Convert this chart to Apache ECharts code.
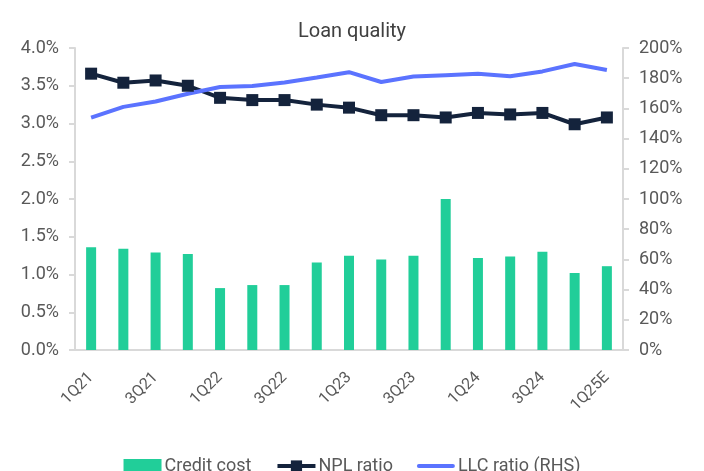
<!DOCTYPE html>
<html><head><meta charset="utf-8">
<script src="https://cdn.jsdelivr.net/npm/echarts@6/dist/echarts.min.js"></script>
<style>html,body{margin:0;padding:0;background:#fff}#c{width:704px;height:471px}</style>
</head><body><div id="c"></div>
<script>
const categories = ['1Q21','2Q21','3Q21','4Q21','1Q22','2Q22','3Q22','4Q22','1Q23','2Q23','3Q23','4Q23','1Q24','2Q24','3Q24','4Q24','1Q25E'];
const creditCost = [1.36,1.34,1.29,1.27,0.82,0.86,0.86,1.16,1.25,1.20,1.25,2.00,1.22,1.24,1.30,1.02,1.11];
const nplRatio = [3.66,3.54,3.57,3.50,3.34,3.31,3.31,3.25,3.21,3.11,3.11,3.08,3.14,3.12,3.14,2.99,3.08];
const llcRatio = [153.9,161.0,164.6,169.7,174.2,174.9,177.1,180.4,184.0,177.5,181.1,182.0,182.9,181.3,184.5,189.4,185.4];

const FONT = 'Roboto';
const TXT = '#595959';
const chart = echarts.init(document.getElementById('c'));
chart.setOption({
  animation: false,
  textStyle: {fontFamily: FONT},
  title: {text: 'Loan quality', left: 'center', top: 17, textStyle: {fontFamily: FONT, fontSize: 20, fontWeight: 'normal', color: '#404040'}},
  grid: {left: 75, right: 81, top: 48, bottom: 121},
  legend: {
    top: 452, left: 'center', itemGap: 24, itemWidth: 38, itemHeight: 14, symbolKeepAspect: true,
    textStyle: {fontFamily: FONT, fontSize: 18, color: TXT, padding: [0, 0, 0, -2]},
    data: [
      {name: 'Credit cost', icon: 'rect'},
      {name: 'NPL ratio', lineStyle: {width: 4}},
      {name: 'LLC ratio (RHS)', icon: 'path://M2,0h34a2,2 0 0 1 0,4h-34a2,2 0 0 1 0,-4z'}
    ]
  },
  xAxis: {
    type: 'category', data: categories,
    axisLine: {lineStyle: {color: '#D9D9D9', width: 2}},
    axisTick: {show: false},
    axisLabel: {interval: 1, rotate: 45, fontSize: 16, color: TXT, margin: 25}
  },
  yAxis: [
    {type: 'value', min: 0, max: 4, interval: 0.5, position: 'left',
     axisLine: {show: true, lineStyle: {color: '#D9D9D9', width: 2}},
     axisTick: {show: true, length: 6, lineStyle: {color: '#D9D9D9', width: 2}},
     splitLine: {show: false},
     axisLabel: {fontSize: 18, color: TXT, margin: 16, formatter: v => v.toFixed(1) + '%'}},
    {type: 'value', min: 0, max: 200, interval: 20, position: 'right',
     axisLine: {show: true, lineStyle: {color: '#D9D9D9', width: 2}},
     axisTick: {show: true, length: 6, lineStyle: {color: '#D9D9D9', width: 2}},
     splitLine: {show: false},
     axisLabel: {fontSize: 18, color: TXT, margin: 16, formatter: v => v + '%'}}
  ],
  series: [
    {name: 'Credit cost', type: 'bar', data: creditCost, yAxisIndex: 0, barWidth: 10,
     itemStyle: {color: '#21CE99'}},
    {name: 'NPL ratio', type: 'line', data: nplRatio, yAxisIndex: 0,
     symbol: 'rect', symbolSize: 12, lineStyle: {color: '#14233C', width: 4},
     itemStyle: {color: '#14233C'}},
    {name: 'LLC ratio (RHS)', type: 'line', data: llcRatio, yAxisIndex: 1,
     symbol: 'none', lineStyle: {color: '#5B73FF', width: 4}, itemStyle: {color: '#5B73FF'}}
  ]
});
</script></body></html>
